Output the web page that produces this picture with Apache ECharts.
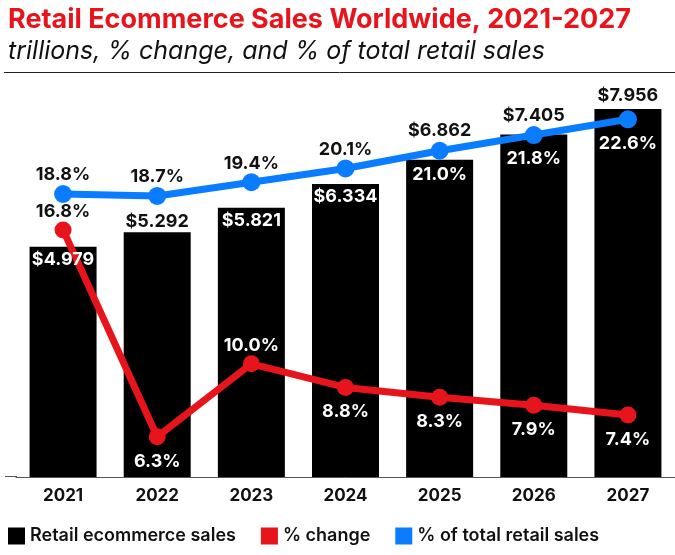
<!DOCTYPE html>
<html>
<head>
<meta charset="utf-8">
<script src="https://cdn.jsdelivr.net/npm/echarts@6/dist/echarts.min.js"></script>
<style>
  html, body { margin: 0; padding: 0; background: #fff; }
  #chart { width: 675px; height: 555px; }
</style>
</head>
<body>
<div id="chart"></div>
<script>
// values
var years = ['2021', '2022', '2023', '2024', '2025', '2026', '2027'];
var salesTrillions = [4.979, 5.292, 5.821, 6.334, 6.862, 7.405, 7.956];
var pctChange = [16.8, 6.3, 10.0, 8.8, 8.3, 7.9, 7.4];
var pctOfTotal = [18.8, 18.7, 19.4, 20.1, 21.0, 21.8, 22.6];

var RED = '#e8141c';
var BLUE = '#0a7cff';
var FONT = 'Inter';

// label placement: inside the bar / below the point means white text
var barInside = [true, false, true, true, false, false, false];
var barGapAbove = [0, 2, 0, 0, 20, 10, 4];
var blueBelow = [false, false, false, false, true, true, true];
var redBelow = [false, true, false, true, true, true, true];

var labelBase = { fontFamily: FONT, fontSize: 18, fontWeight: 'bold' };

var barLabelData = salesTrillions.map(function (v, i) {
    return {
        value: v,
        label: barInside[i]
            ? { position: 'insideTop', distance: 4, color: '#fff' }
            : { position: 'top', distance: barGapAbove[i], color: '#111' }
    };
});
var blueData = pctOfTotal.map(function (v, i) {
    return {
        value: v,
        label: blueBelow[i]
            ? { position: 'bottom', distance: 6, color: '#fff' }
            : { position: 'top', distance: 1, color: '#111' }
    };
});
var redData = pctChange.map(function (v, i) {
    return {
        value: v,
        label: redBelow[i]
            ? { position: 'bottom', distance: 7, color: '#fff' }
            : { position: 'top', distance: 1, color: i === 0 ? '#111' : '#fff' }
    };
});

var myChart = echarts.init(document.getElementById('chart'));

var option = {
    backgroundColor: '#fff',
    animation: false,
    title: [
        {
            text: 'Retail Ecommerce Sales Worldwide, 2021-2027',
            left: 3,
            top: 1,
            textStyle: { color: RED, fontFamily: FONT, fontSize: 27, fontWeight: 'bold' }
        },
        {
            text: 'trillions, % change, and % of total retail sales',
            left: 3,
            top: 34,
            textStyle: { color: '#111', fontFamily: FONT, fontSize: 25, fontWeight: 'normal', fontStyle: 'italic' }
        }
    ],
    graphic: [
        { type: 'line', shape: { x1: 4, y1: 72.5, x2: 675, y2: 72.5 }, style: { stroke: '#222', lineWidth: 1 } },
        { type: 'line', shape: { x1: 5, y1: 476.5, x2: 17, y2: 476.5 }, style: { stroke: '#555', lineWidth: 1 } }
    ],
    legend: {
        left: 3,
        top: 522,
        icon: 'rect',
        itemWidth: 17,
        itemHeight: 17,
        itemGap: 25,
        textStyle: { color: '#111', fontFamily: FONT, fontSize: 18, fontWeight: 600 },
        data: ['Retail ecommerce sales', '% change', '% of total retail sales']
    },
    grid: { left: 16, right: 0, top: 107, bottom: 78 },
    xAxis: {
        type: 'category',
        data: years,
        axisLine: { lineStyle: { color: '#555', width: 1 } },
        axisTick: { show: false },
        axisLabel: { color: '#111', fontFamily: FONT, fontSize: 17, fontWeight: 'bold', margin: 10 }
    },
    yAxis: [
        { type: 'value', min: 0, max: 8, show: false, splitLine: { show: false } },
        { type: 'value', min: 4.253, max: 23.04, show: false, splitLine: { show: false } },
        { type: 'value', min: 4.405, max: 23.225, show: false, splitLine: { show: false } }
    ],
    series: [
        {
            name: 'Retail ecommerce sales',
            type: 'bar',
            yAxisIndex: 0,
            barWidth: 67,
            itemStyle: { color: '#000' },
            data: salesTrillions,
            z: 1
        },
        {
            // transparent twin of the bars, only there so the $ labels sit above the lines
            name: 'bar labels',
            type: 'bar',
            yAxisIndex: 0,
            barWidth: 67,
            barGap: '-100%',
            itemStyle: { color: 'rgba(0,0,0,0)' },
            label: Object.assign({ show: true, formatter: function (p) { return '$' + p.value.toFixed(3); } }, labelBase),
            data: barLabelData,
            silent: true,
            z: 10
        },
        {
            name: '% change',
            type: 'line',
            yAxisIndex: 1,
            symbol: 'circle',
            symbolSize: 17,
            lineStyle: { color: RED, width: 7 },
            itemStyle: { color: RED },
            label: Object.assign({ show: true, formatter: function (p) { return p.value.toFixed(1) + '%'; } }, labelBase),
            data: redData,
            z: 3
        },
        {
            name: '% of total retail sales',
            type: 'line',
            yAxisIndex: 2,
            symbol: 'circle',
            symbolSize: 18,
            lineStyle: { color: BLUE, width: 7 },
            itemStyle: { color: BLUE },
            label: Object.assign({ show: true, formatter: function (p) { return p.value.toFixed(1) + '%'; } }, labelBase),
            data: blueData,
            z: 4
        }
    ]
};
myChart.setOption(option);
</script>
</body>
</html>
